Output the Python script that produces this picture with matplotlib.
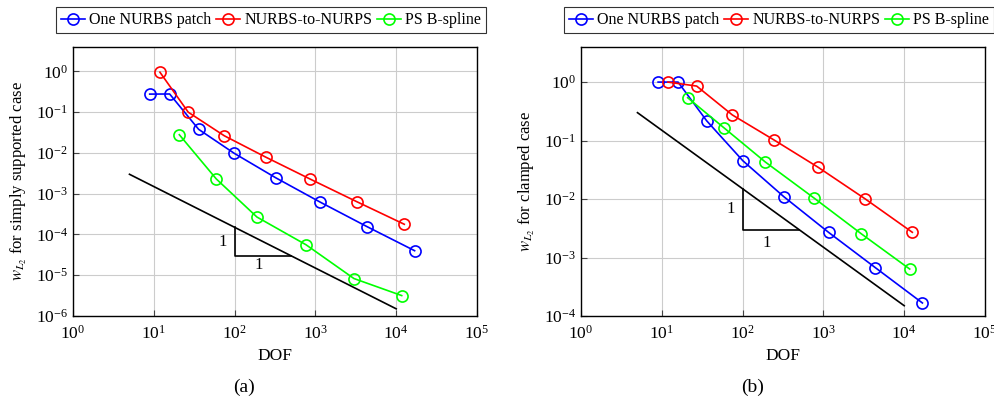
import matplotlib
matplotlib.use("Agg")
import matplotlib.pyplot as plt
import numpy as np

plt.rcParams["font.family"] = ["Liberation Serif", "DejaVu Serif"]
plt.rcParams["mathtext.fontset"] = "stix"
plt.rcParams["font.size"] = 12

# (a) simply supported case
a_one_dof = [8.9, 15.7, 35.9, 99, 322, 1150, 4350, 16900]
a_one_err = [0.278, 0.28, 0.038, 0.0098, 0.00247, 6.2e-4, 1.56e-4, 4.0e-5]
a_n2n_dof = [11.9, 26.7, 74.6, 243, 857, 3240, 12600]
a_n2n_err = [0.96, 0.1, 0.0264, 0.0079, 0.0023, 6.4e-4, 1.78e-4]
a_ps_dof = [20.7, 59.4, 189, 765, 3000, 11700]
a_ps_err = [0.028, 0.0023, 2.68e-4, 5.6e-5, 8.3e-6, 3.17e-6]

# (b) clamped case
b_one_dof = [9.0, 15.9, 36, 101, 323, 1164, 4400, 16800]
b_one_err = [1.0, 1.0, 0.217, 0.045, 0.011, 2.68e-3, 6.7e-4, 1.67e-4]
b_n2n_dof = [11.9, 27, 74.7, 243, 867, 3310, 12600]
b_n2n_err = [1.0, 0.855, 0.274, 0.103, 0.0347, 0.01, 2.7e-3]
b_ps_dof = [20.9, 59.5, 191, 766, 2950, 11700]
b_ps_err = [0.54, 0.163, 0.043, 0.0104, 2.54e-3, 6.35e-4]

# reference slope -1 lines: y = c / x for x in ref_x
ref_x = [5, 1e4]
a_ref_c = 0.015
b_ref_c = 1.5

fig = plt.figure(figsize=(9.95, 3.98), dpi=100)
W, H = 995, 398


def make_axes(left, ylabel, ymin, ref_c, tri_y, caption, cap_x, data):
    ax = fig.add_axes([left / W, 1 - 316 / H, 404 / W, 269 / H])
    styles = [("One NURBS patch", "#0000ff"), ("NURBS-to-NURPS", "#ff0000"),
              ("PS B-spline", "#00ff00")]
    for (x, y), (lab, col) in zip(data, styles):
        ax.plot(x, y, color=col, lw=1.2, marker="o", ms=8, mfc="none",
                mew=1.2, label=lab)
    xr = np.array(ref_x)
    ax.plot(xr, ref_c / xr, color="black", lw=1.2)
    # slope triangle
    ax.plot([100, 100, 500], [ref_c / 100, tri_y, tri_y], color="black", lw=1.2)
    ax.text(80, np.sqrt(ref_c / 100 * tri_y), "1", ha="right", va="center")
    ax.text(196, tri_y * 0.58, "1", ha="center", va="center")

    ax.set_xscale("log")
    ax.set_yscale("log")
    ax.set_xlim(1, 1e5)
    ax.set_ylim(ymin, 10 ** 0.6)
    ax.set_xticks([10.0 ** k for k in range(0, 6)])
    ax.minorticks_off()
    ax.grid(True, color="#cccccc", lw=0.8)
    ax.set_axisbelow(True)
    ax.tick_params(direction="in", length=4, color="#444444", labelsize=12.5)
    ax.tick_params(axis="x", pad=6)
    for s in ax.spines.values():
        s.set_linewidth(1.0)
    ax.set_xlabel("DOF", labelpad=4, fontsize=12.5)
    ax.set_ylabel(ylabel, labelpad=5, fontsize=12)
    leg = ax.legend(loc="lower center", bbox_to_anchor=(0.49, 1.052), ncol=3,
                    frameon=True, fancybox=False, edgecolor="black",
                    handlelength=1.5, handletextpad=0.25, columnspacing=0.3,
                    borderpad=0.3, borderaxespad=0.0, fontsize=11.5)
    leg.get_frame().set_linewidth(0.8)
    fig.text(cap_x / W, 1 - 387 / H, caption, ha="center", va="center",
             fontsize=14)
    return ax


make_axes(73, r"$w_{L_2}$ for simply supported case", 1e-6, a_ref_c, 3e-5,
          "(a)", 244,
          [(a_one_dof, a_one_err), (a_n2n_dof, a_n2n_err), (a_ps_dof, a_ps_err)])
make_axes(581, r"$w_{L_2}$ for clamped case", 1e-4, b_ref_c, 3e-3,
          "(b)", 753,
          [(b_one_dof, b_one_err), (b_n2n_dof, b_n2n_err), (b_ps_dof, b_ps_err)])

fig.savefig("out.png", dpi=100)
